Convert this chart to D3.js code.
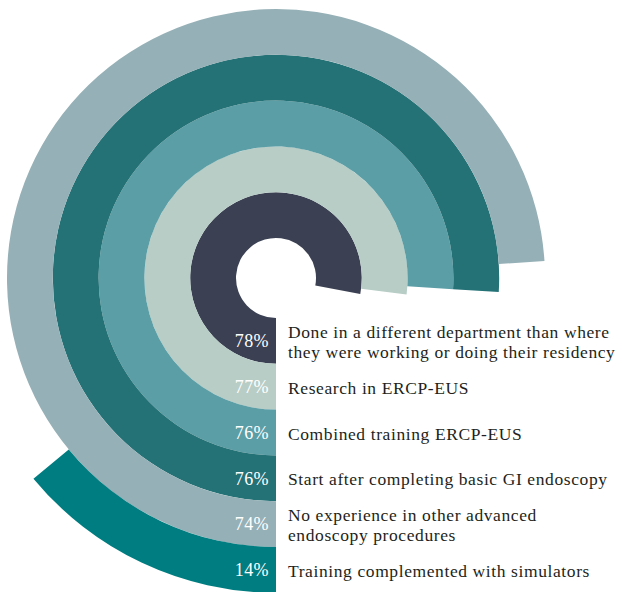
<!DOCTYPE html>
<html>
<head>
<meta charset="utf-8">
<script src="https://cdn.jsdelivr.net/npm/d3@7"></script>
<style>
  html, body { margin: 0; padding: 0; background: #fff; }
  svg { display: block; }
  text { font-family: "Liberation Serif", "Times New Roman", serif; }
</style>
</head>
<body>
<svg id="chart" width="622" height="592"></svg>
<script>
// Survey items, innermost ring first
const categories = [
  ["Done in a different department than where", "they were working or doing their residency"],
  ["Research in ERCP-EUS"],
  ["Combined training ERCP-EUS"],
  ["Start after completing basic GI endoscopy"],
  ["No experience in other advanced", "endoscopy procedures"],
  ["Training complemented with simulators"]
];
const percentages = [78, 77, 76, 76, 74, 14];
const ringColors = ["#3b4152", "#b7cdc6", "#5b9ea6", "#247176", "#95b0b6", "#007d80"];

const svg = d3.select("#chart");
const cx = 276, cy = 278;
const innerRadius = 40, ringWidth = 45.8;

// Angle runs clockwise from the 6 o'clock position
const angle = d3.scaleLinear().domain([0, 100]).range([Math.PI, 3 * Math.PI]);
const radius = d3.scaleLinear().domain([0, categories.length])
  .range([innerRadius, innerRadius + ringWidth * categories.length]);

const rows = percentages.map((v, i) => ({ v, i, label: categories[i], color: ringColors[i] }));

const arc = d3.arc()
  .innerRadius(d => radius(d.i))
  .outerRadius(d => radius(d.i + 1))
  .startAngle(angle(0))
  .endAngle(d => angle(d.v));

const g = svg.append("g").attr("transform", `translate(${cx},${cy})`);

g.selectAll("path.ring")
  .data(rows)
  .join("path")
  .attr("class", "ring")
  .attr("d", arc)
  .attr("fill", d => d.color);

// Percent values at the bottom of each ring
g.selectAll("text.pct")
  .data(rows)
  .join("text")
  .attr("class", "pct")
  .attr("x", -7)
  .attr("y", d => radius(d.i + 0.5))
  .attr("dy", "0.35em")
  .attr("text-anchor", "end")
  .attr("fill", "#ffffff")
  .attr("font-size", 18)
  .attr("letter-spacing", 0.4)
  .text(d => d.v + "%");

// Item descriptions to the right of the ring starts, one text per line
const lineHeight = 19.5;
const lines = rows.flatMap(d => d.label.map((t, k) => ({
  t,
  y: radius(d.i + 0.5) + (k - (d.label.length - 1) / 2) * lineHeight + 1
})));

g.selectAll("text.desc")
  .data(lines)
  .join("text")
  .attr("class", "desc")
  .attr("x", 12)
  .attr("y", d => d.y)
  .attr("dy", "0.35em")
  .attr("fill", "#231f20")
  .attr("font-size", 17.5)
  .attr("letter-spacing", 0.6)
  .text(d => d.t);
</script>
</body>
</html>
